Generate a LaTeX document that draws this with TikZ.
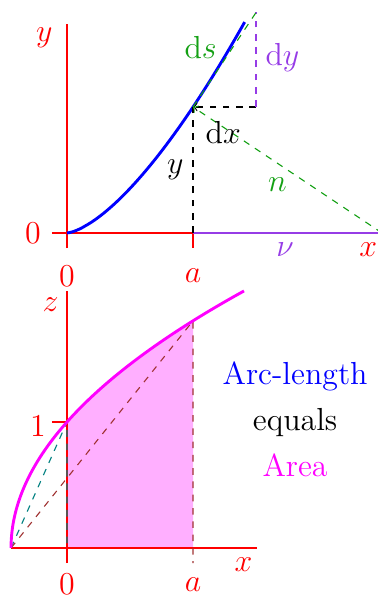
\documentclass[tikz,border=0pt]{standalone}
\usepackage{amsmath}
\usetikzlibrary{positioning}
\definecolor{dgreen}{RGB}{20,160,20}
\definecolor{dviolet}{RGB}{150,60,230}
\definecolor{dbrown}{RGB}{160,50,50}
\definecolor{pmag}{RGB}{255,0,255}
\definecolor{pfill}{RGB}{255,175,255}
\definecolor{pred}{RGB}{255,0,0}
\begin{document}
\begin{tikzpicture}[x=2cm, y=2cm,
    font=\Large,
    axis/.style={pred, line width=0.6pt},
    lbl/.style={inner sep=1pt, text=pred},
    guide/.style={dashed, line width=0.5pt},
    curve/.style={line width=1.3pt}
  ]
  \useasboundingbox (-0.532,-2.913) rectangle (2.468,1.849);
  % ----- Top plot: the curve y = x^{3/2} -----
  \coordinate (O1) at (0,0);
  \coordinate (P)  at (1,1);
  \coordinate (Q)  at (1.5,1);
  \coordinate (R)  at (1.5,1.75);
  \coordinate (Pa) at (1,0);
  \coordinate (N)  at (2.5,0);
  \draw[axis] (0,-0.12) -- (0,1.66);
  \draw[axis] (-0.12,0) -- (N);
  \draw[axis] (Pa) -- (1,-0.12);
  \draw[dviolet, thick] (Pa) -- (N);
  \draw[blue, curve] plot[domain=0:1.41, samples=60] (\x,{\x^1.5});
  \draw[guide] (Pa) -- (P);
  \draw[guide, ->] (Q) -- (P);
  \draw[guide, dviolet] (Q) -- (R);
  \draw[guide, dgreen] (P) -- (R);
  \draw[guide, dgreen, ->] (N) -- (P);
  \node[lbl] (ytop)  at (-0.18,1.55) {$y$};
  \node[lbl] (zero1) at (-0.27,0)    {$0$};
  \node[lbl] (xo1)   at (0,-0.34)    {$0$};
  \node[lbl] (xa1)   at (1,-0.34)    {$a$};
  \node[lbl] (xtop)  at (2.39,-0.13) {$x$};
  \node[lbl, text=dviolet] (nu) at (1.73,-0.13) {$\nu$};
  \node[lbl, text=dgreen]  (nn) at (1.67,0.38)  {$n$};
  \node[lbl, text=black]   (dx) at (1.24,0.80)  {$\mathrm{d}x$};
  \node[lbl, text=dviolet] (dy) at (1.71,1.39)  {$\mathrm{d}y$};
  \node[lbl, text=dgreen]  (ds) at (1.06,1.47)  {$\mathrm{d}s$};
  \node[lbl, text=black]   (yv) at (0.86,0.50)  {$y$};

  % ----- Bottom plot: z = sqrt(1 + 9x/4) -----
  \begin{scope}[yshift=-5cm]
    \coordinate (O2) at (0,0);
    \coordinate (S)  at (-0.4444,0);
    \coordinate (T)  at (0,1);
    \coordinate (U)  at (1,1.8028);
    \coordinate (Ua) at (1,-0.12);
    \fill[pfill] (O2) -- (T)
      -- plot[domain=1:1.8028, samples=40] ({(\x*\x-1)/2.25},\x)
      -- (1,0) -- cycle;
    \draw[axis] (0,-0.12) -- (0,2.04);
    \draw[axis] (S) -- (1.51,0);
    \draw[axis] (-0.12,1) -- (T);
    \draw[guide, teal] (S) -- (T) -- (O2);
    \draw[guide, dbrown] (S) -- (U) -- (Ua);
    \draw[pmag, curve] plot[domain=0:2.04, samples=80] ({(\x*\x-1)/2.25},\x);
    \node[lbl] (zlab) at (-0.13,1.93) {$z$};
    \node[lbl] (one)  at (-0.23,0.97) {$1$};
    \node[lbl] (xbot) at (1.40,-0.13) {$x$};
    \node[lbl] (xo2)  at (0,-0.29)    {$0$};
    \node[lbl] (xa2)  at (1,-0.29)    {$a$};
    \node[text=blue] (arc) at (1.81,1.36) {Arc-length};
    \node[below=0.73cm of arc.base, anchor=base] (eq) {equals};
    \node[text=pmag, below=0.73cm of eq.base, anchor=base] (area) {Area};
  \end{scope}
\end{tikzpicture}
\end{document}
